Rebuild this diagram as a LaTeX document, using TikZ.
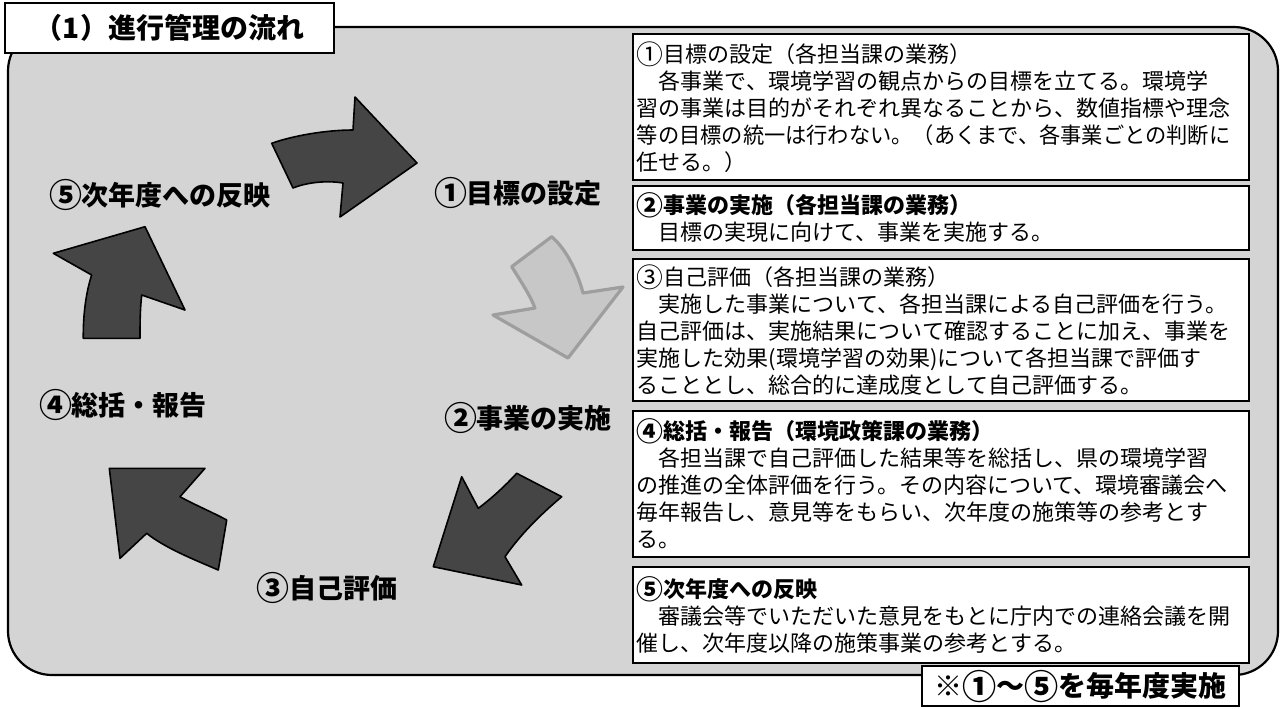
\documentclass[tikz,border=0pt]{standalone}
\usepackage{fontspec}
\setmainfont{Noto Sans CJK JP}
\usepackage{graphicx}
\definecolor{bggray}{gray}{0.83}
\definecolor{arrowdark}{gray}{0.27}
\definecolor{arrowlight}{gray}{0.78}
\definecolor{arrowlightline}{gray}{0.62}
\newcommand\cnum[1]{\raisebox{-0.09em}{\scalebox{1.22}{#1}}}
\tikzset{
  frame/.style={draw=black, line width=1.1pt, fill=bggray, rounded corners=22pt},
  darkarrow/.style={fill=arrowdark, draw=black, line width=0.8pt, line join=round},
  lightarrow/.style={fill=arrowlight, draw=arrowlightline, line width=1.6pt, line join=round},
  infobox/.style={draw=black, line width=0.9pt, fill=white, anchor=north west, align=left,
    inner xsep=2pt, inner ysep=1pt, text width=304pt, minimum width=308pt,
    font=\fontsize{11}{13.5}\selectfont},
  cyclelabel/.style={font=\fontsize{13.5}{15}\selectfont\bfseries, inner sep=0pt},
  titlebox/.style={draw=black, line width=1pt, fill=white, font=\fontsize{14}{16}\selectfont\bfseries},
  notebox/.style={draw=black, line width=1.2pt, fill=white, inner sep=0pt,
    font=\fontsize{14}{16}\selectfont\bfseries}
}
\begin{document}
\begin{tikzpicture}[x=0.5pt,y=-0.5pt]
\fill[white] (0,0) rectangle (1284,708);
\useasboundingbox (0,0) rectangle (1284,708);

% main frame
\path[frame] (8,27) rectangle (1278,675);

% title
\node[titlebox, minimum width=164.5pt, minimum height=25pt, anchor=north west] (title) at (4,2) {（1）進行管理の流れ};

% cycle arrows
% (5) -> (1)
\path[darkarrow] (271.7,143.3) .. controls (292,136) and (325,130) .. (353,130) -- (355,97) -- (417,163) -- (340,217) -- (343,183) .. controls (325,180) and (305,183) .. (293,188) -- cycle;
% (1) -> (2) light
\path[lightarrow] (511.7,266.7) -- (551.7,236.7) .. controls (565,248) and (577,270) .. (583,293) -- (623,287) -- (568,358) -- (493,315) -- (535,308) .. controls (530,295) and (520,280) .. cycle;
% (2) -> (3)
\path[darkarrow] (461.7,476.7) -- (478.3,508.3) .. controls (492,498) and (505,486) .. (516.7,473.3) -- (561.7,496.7) .. controls (540,515) and (520,535) .. (505,556.7) -- (521.7,585) -- (433.3,566.7) -- cycle;
% (3) -> (4)
\path[darkarrow] (109.3,468.3) -- (205,468.3) -- (180,496.7) .. controls (195,505) and (212,512) .. (226.7,520) -- (218.3,570) .. controls (195,560) and (165,548) .. (146.7,533.3) -- (120,558.3) -- cycle;
% (4) -> (5)
\path[darkarrow] (145,226.7) -- (185,310) -- (141.7,295) .. controls (140,310) and (140,325) .. (140,338.3) -- (83.3,338.3) .. controls (83,315) and (86,292) .. (91.7,275) -- (53.3,253.3) -- cycle;

% cycle labels
\node[cyclelabel] (lab1) at (518,193) {\cnum{①}目標の設定};
\node[cyclelabel] (lab2) at (528,418) {\cnum{②}事業の実施};
\node[cyclelabel] (lab3) at (327,588) {\cnum{③}自己評価};
\node[cyclelabel] (lab4) at (123,405) {\cnum{④}総括・報告};
\node[cyclelabel] (lab5) at (160,195) {\cnum{⑤}次年度への反映};

% info boxes
\node[infobox, minimum height=73pt] (b1) at (632,33) {%
\cnum{①}目標の設定（各担当課の業務）\\
　各事業で、環境学習の観点からの目標を立てる。環境学\\
習の事業は目的がそれぞれ異なることから、数値指標や理念\\
\scalebox{0.965}[1]{等の目標の統一は行わない。（あくまで、各事業ごとの判断に}\\
任せる。）};

\node[infobox, minimum height=32pt] (b2) at (632,185) {%
\textbf{\cnum{②}事業の実施（各担当課の業務）}\\
　目標の実現に向けて、事業を実施する。};

\node[infobox, minimum height=71pt] (b3) at (632,258) {%
\cnum{③}自己評価（各担当課の業務）\\
　実施した事業について、各担当課による自己評価を行う。\\
自己評価は、実施結果について確認することに加え、事業を\\
実施した効果(環境学習の効果)について各担当課で評価す\\
ることとし、総合的に達成度として自己評価する。};

\node[infobox, minimum height=73pt] (b4) at (632,410) {%
\textbf{\cnum{④}総括・報告（環境政策課の業務）}\\
　各担当課で自己評価した結果等を総括し、県の環境学習\\
の推進の全体評価を行う。その内容について、環境審議会へ\\
毎年報告し、意見等をもらい、次年度の施策等の参考とす\\
る。};

\node[infobox, minimum height=48pt] (b5) at (632,566) {%
\textbf{\cnum{⑤}次年度への反映}\\
　審議会等でいただいた意見をもとに庁内での連絡会議を開\\
催し、次年度以降の施策事業の参考とする。};

% note
\node[notebox, minimum width=158.5pt, minimum height=20pt, anchor=north west] (note) at (921,665) {※\cnum{①}～\cnum{⑤}を毎年度実施};
\end{tikzpicture}
\end{document}
